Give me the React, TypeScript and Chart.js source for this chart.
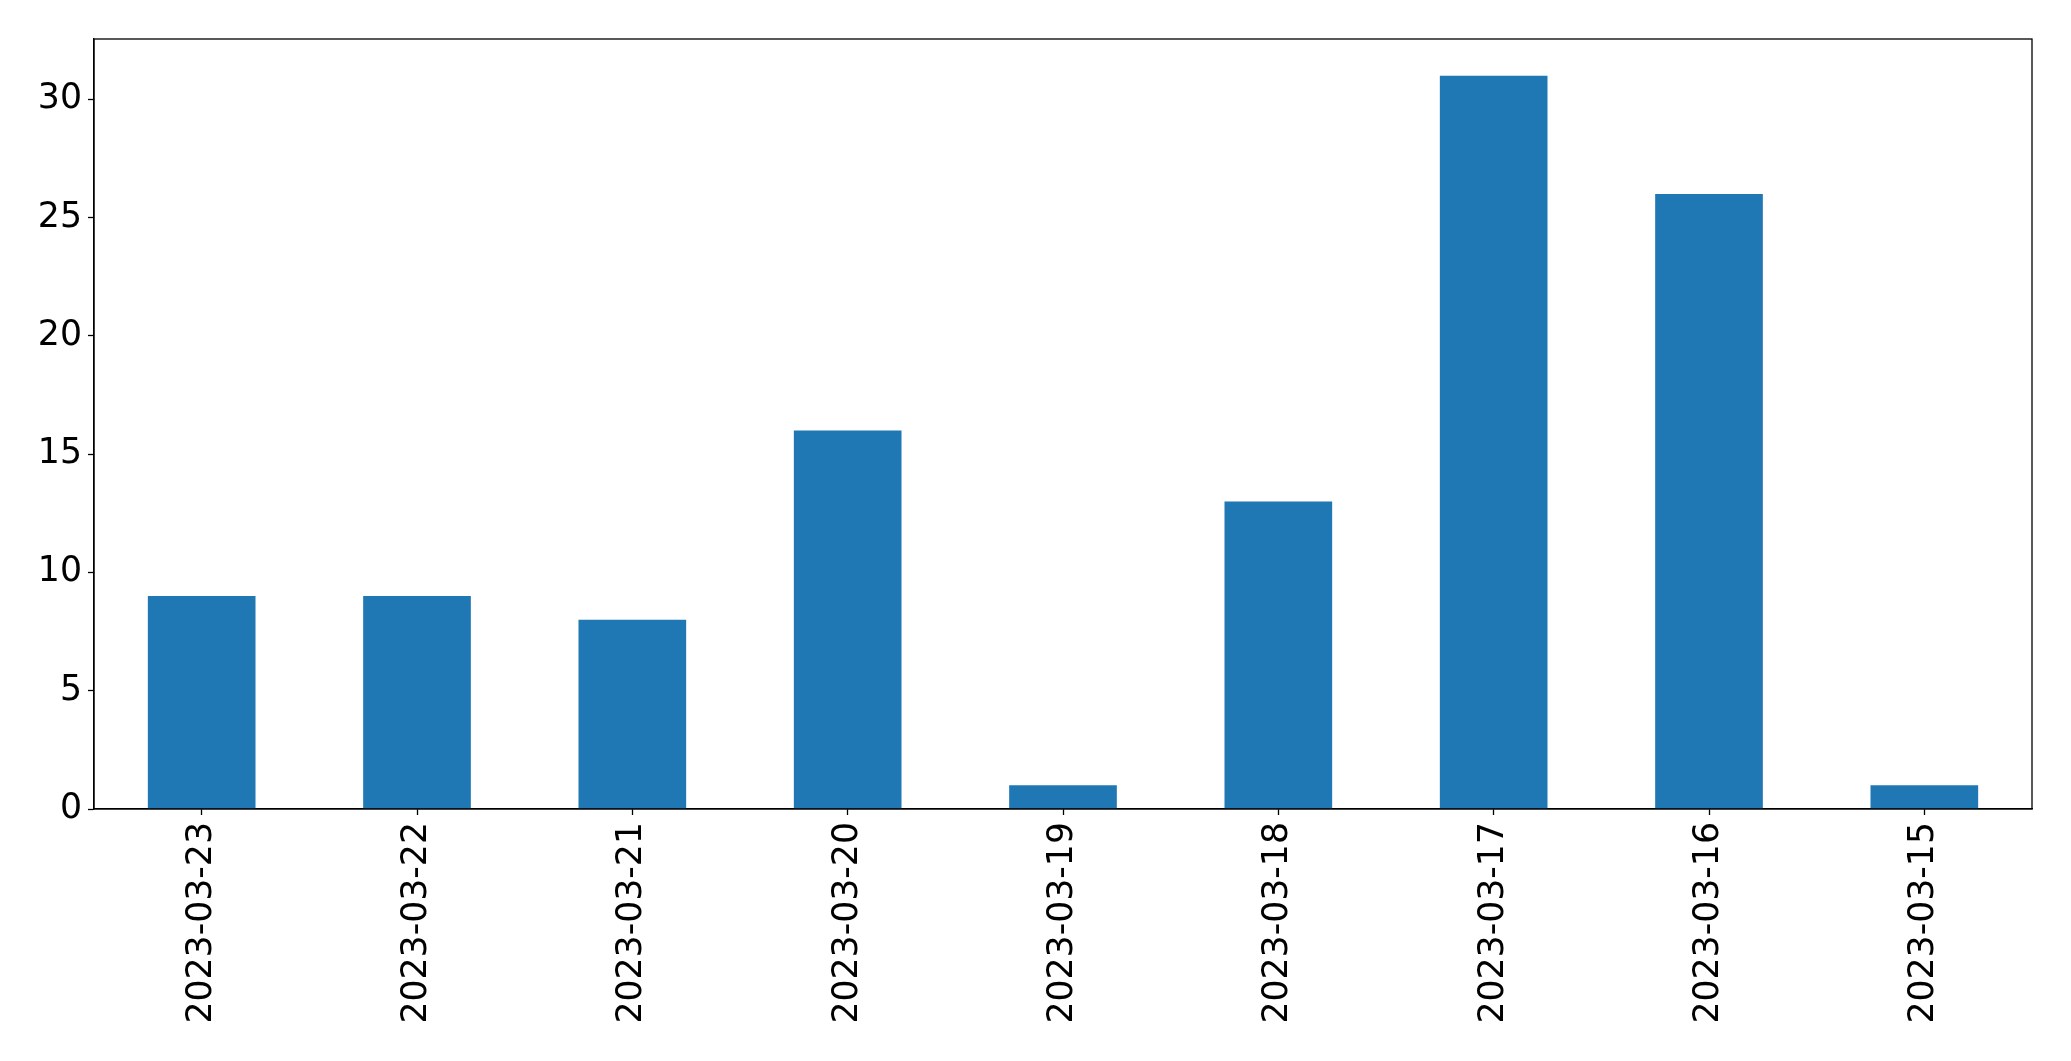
import React, { useEffect, useRef } from "react";
import { Chart, registerables } from "chart.js";

Chart.register(...registerables);

const categories = [
  "2023-03-23",
  "2023-03-22",
  "2023-03-21",
  "2023-03-20",
  "2023-03-19",
  "2023-03-18",
  "2023-03-17",
  "2023-03-16",
  "2023-03-15",
];
const counts = [9, 9, 8, 16, 1, 13, 31, 26, 1];
const yTicks = [0, 5, 10, 15, 20, 25, 30];

const W = 2071;
const H = 1061;
const LEFT = 94;
const TOP = 39;
const RIGHT = 2032;
const BOTTOM = 809;

const frame = {
  id: "frame",
  afterDatasetsDraw(chart: any) {
    const { ctx, chartArea: a } = chart;
    ctx.save();
    ctx.strokeStyle = "#000";
    ctx.lineWidth = 1.3;
    ctx.strokeRect(a.left, a.top, a.right - a.left, a.bottom - a.top);
    ctx.restore();
  },
};

export default function App() {
  const ref = useRef<HTMLCanvasElement | null>(null);
  useEffect(() => {
    if (!ref.current) return;
    const maxV = Math.max(...counts);
    const chart = new Chart(ref.current, {
      type: "bar",
      data: {
        labels: categories,
        datasets: [
          {
            data: counts,
            backgroundColor: "#1f77b4",
            borderWidth: 0,
            barPercentage: 0.5,
            categoryPercentage: 1,
          },
        ],
      },
      options: {
        animation: false,
        responsive: false,
        devicePixelRatio: 1,
        layout: { padding: { left: 0, top: TOP, right: W - RIGHT, bottom: 0 } },
        plugins: { legend: { display: false }, tooltip: { enabled: false } },
        scales: {
          x: {
            type: "category",
            offset: true,
            grid: {
              offset: false,
              drawOnChartArea: false,
              drawTicks: true,
              tickLength: 6,
              tickWidth: 1.3,
              tickColor: "#000",
            },
            border: { display: true, color: "#000", width: 1.3 },
            ticks: {
              color: "#000",
              font: { family: "DejaVu Sans", size: 34.7 },
              minRotation: 90,
              maxRotation: 90,
              autoSkip: false,
              padding: 7,
            },
            afterFit(scale: any) {
              scale.height = H - BOTTOM;
            },
          },
          y: {
            min: 0,
            max: maxV * 1.05,
            afterBuildTicks(scale: any) {
              scale.ticks = yTicks.map((v) => ({ value: v }));
            },
            grid: {
              drawOnChartArea: false,
              drawTicks: true,
              tickLength: 6,
              tickWidth: 1.3,
              tickColor: "#000",
            },
            border: { display: true, color: "#000", width: 1.3 },
            ticks: {
              color: "#000",
              font: { family: "DejaVu Sans", size: 34.7 },
              padding: 6,
            },
            afterFit(scale: any) {
              scale.width = LEFT;
            },
          },
        },
      },
      plugins: [frame],
    });
    return () => chart.destroy();
  }, []);
  return (
    <div style={{ position: "fixed", left: 0, top: 0, width: W, height: H, background: "#fff" }}>
      <canvas ref={ref} width={W} height={H} style={{ width: W, height: H, display: "block" }} />
    </div>
  );
}
